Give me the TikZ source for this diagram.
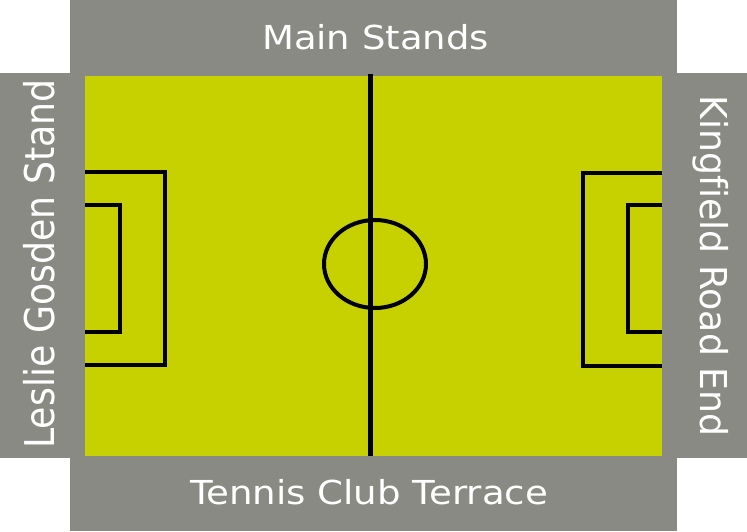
\documentclass[tikz,border=0pt]{standalone}
\usepackage{fontspec}
\setmainfont[Ligatures=NoCommon]{DejaVu Sans}
\definecolor{standgray}{RGB}{138,138,132}
\definecolor{pitchgreen}{RGB}{199,209,0}
\begin{document}
\begin{tikzpicture}[x=1pt,y=-1pt,
  pitchline/.style={black,line width=4pt},
  standlabel/.style={text=white,inner sep=0pt,anchor=base}]
\useasboundingbox (0,0) rectangle (747,531);
\fill[white] (0,0) rectangle (747,531);
% stands
\fill[standgray] (70,0) rectangle (677,531);
\fill[standgray] (0,73) rectangle (747,458);
% pitch
\fill[pitchgreen] (85,76) rectangle (662,456);
% halfway line and centre circle
\coordinate (htop) at (370,74);
\coordinate (hbot) at (370,456);
\draw[pitchline,line width=5pt] (htop) -- (hbot);
\draw[pitchline] (375,264) ellipse [x radius=51, y radius=44];
% left boxes
\draw[pitchline] (85,172) -- (165,172) -- (165,365) -- (85,365);
\draw[pitchline] (85,205) -- (120,205) -- (120,332) -- (85,332);
% right boxes
\draw[pitchline] (662,173) -- (583,173) -- (583,366) -- (662,366);
\draw[pitchline] (662,205) -- (628,205) -- (628,332) -- (662,332);
% labels
\node[standlabel] (main) at (375.5,49) {\fontsize{33}{33}\selectfont\scalebox{1.12}[1]{Main Stands}};
\node[standlabel] (tennis) at (369,504) {\fontsize{33}{33}\selectfont\scalebox{1.125}[1]{Tennis Club Terrace}};
\node[standlabel,rotate=90] (leslie) at (54,264) {\fontsize{41}{41}\selectfont\scalebox{0.885}[1]{Leslie Gosden Stand}};
\node[standlabel,rotate=-90] (king) at (700,266) {\fontsize{37}{37}\selectfont\scalebox{0.98}[1]{Kingfield Road End}};
\end{tikzpicture}
\end{document}
